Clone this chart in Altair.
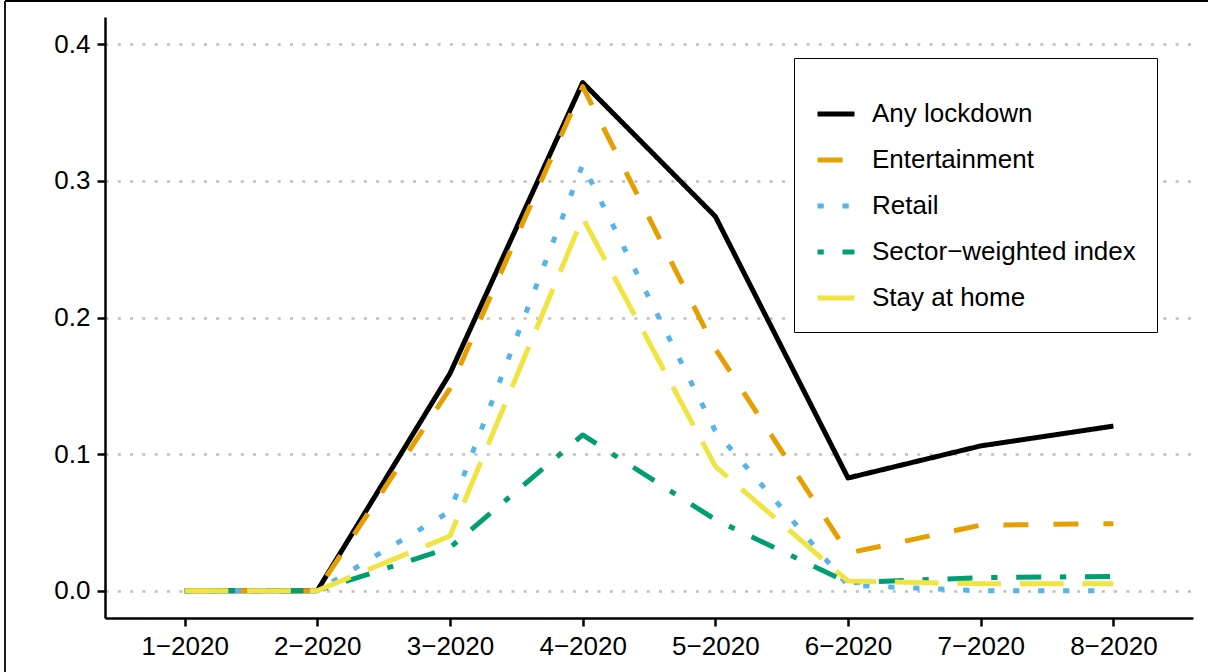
import altair as alt
import pandas as pd

months = ["1\u22122020", "2\u22122020", "3\u22122020", "4\u22122020",
          "5\u22122020", "6\u22122020", "7\u22122020", "8\u22122020"]

series_names = ["Any lockdown", "Entertainment", "Retail",
                "Sector\u2212weighted index", "Stay at home"]

any_lockdown = [0.0, 0.0, 0.159, 0.372, 0.274, 0.0825, 0.106, 0.1205]
entertainment = [0.0, 0.0, 0.148, 0.369, 0.177, 0.0275, 0.048, 0.049]
retail = [0.0, 0.0, 0.058, 0.312, 0.117, 0.004, 0.0, 0.0]
sector_weighted = [0.0, 0.0, 0.0315, 0.114, 0.052, 0.006, 0.0095, 0.0105]
stay_at_home = [0.0, 0.0, 0.040, 0.273, 0.091, 0.007, 0.005, 0.005]

values = [any_lockdown, entertainment, retail, sector_weighted, stay_at_home]

colors = ["#000000", "#E69F00", "#56B4E9", "#009E73", "#F0E442"]
dashes = [[1, 0], [25, 25], [6.25, 18.75], [6.25, 18.75, 25, 18.75], [43.75, 18.75]]
y_ticks = [0.0, 0.1, 0.2, 0.3, 0.4]

rows = []
for name, vals in zip(series_names, values):
    for m, v in zip(months, vals):
        rows.append({"month": m, "value": v, "series": name})
df = pd.DataFrame(rows)

FONT = "Liberation Sans"

x_enc = alt.X("month:N", sort=months,
              scale=alt.Scale(type="point", padding=0.6),
              axis=alt.Axis(title=None, labelAngle=0, grid=False))
y_enc = alt.Y("value:Q",
              scale=alt.Scale(domain=[-0.02, 0.42], nice=False, zero=False),
              axis=alt.Axis(title=None, values=y_ticks, format=".1f", grid=True))
color_enc = alt.Color("series:N",
                      scale=alt.Scale(domain=series_names, range=colors),
                      legend=alt.Legend(title=" ", orient="none",
                                        legendX=689, legendY=41,
                                        symbolType="stroke", symbolSize=1369,
                                        symbolStrokeWidth=5, labelFontSize=26,
                                        labelFont=FONT, labelColor="black",
                                        labelLimit=0,
                                        labelOffset=15, rowPadding=12,
                                        padding=21, titleFontSize=9,
                                        titlePadding=5, strokeColor="black",
                                        fillColor="white", cornerRadius=0))
dash_enc = alt.StrokeDash("series:N",
                          scale=alt.Scale(domain=series_names, range=dashes),
                          legend=None)

base = alt.Chart(df).mark_line(strokeWidth=5, strokeJoin="round", strokeCap="butt").encode(
    x=x_enc, y=y_enc, color=color_enc, strokeDash=dash_enc)

one = pd.DataFrame({"k": [0]})
frame_left = alt.Chart(one).mark_rule(color="black", strokeWidth=1.8).encode(
    x=alt.value(-100), y=alt.value(-16), y2=alt.value(700))
frame_top = alt.Chart(one).mark_rule(color="black", strokeWidth=1.8).encode(
    x=alt.value(-100), x2=alt.value(1200), y=alt.value(-16))

layers = [frame_left, frame_top]
for name in series_names:
    layers.append(base.transform_filter(alt.datum.series == name))

chart = alt.layer(*layers).properties(
    width=1088, height=601,
    autosize=alt.AutoSizeParams(type="none"),
    padding={"left": 105, "top": 17, "right": 15, "bottom": 54},
).configure(background="white").configure_view(stroke=None).configure_axis(
    domainColor="black", domainWidth=2.5,
    tickColor="black", tickWidth=2.5, tickSize=8,
    labelFont=FONT, labelFontSize=26, labelColor="black", labelPadding=7,
    gridColor="#BEBEBE", gridDash=[3, 9.3], gridWidth=2.7,
)

chart.save("out.html", embed_options={"renderer": "svg", "actions": False})
